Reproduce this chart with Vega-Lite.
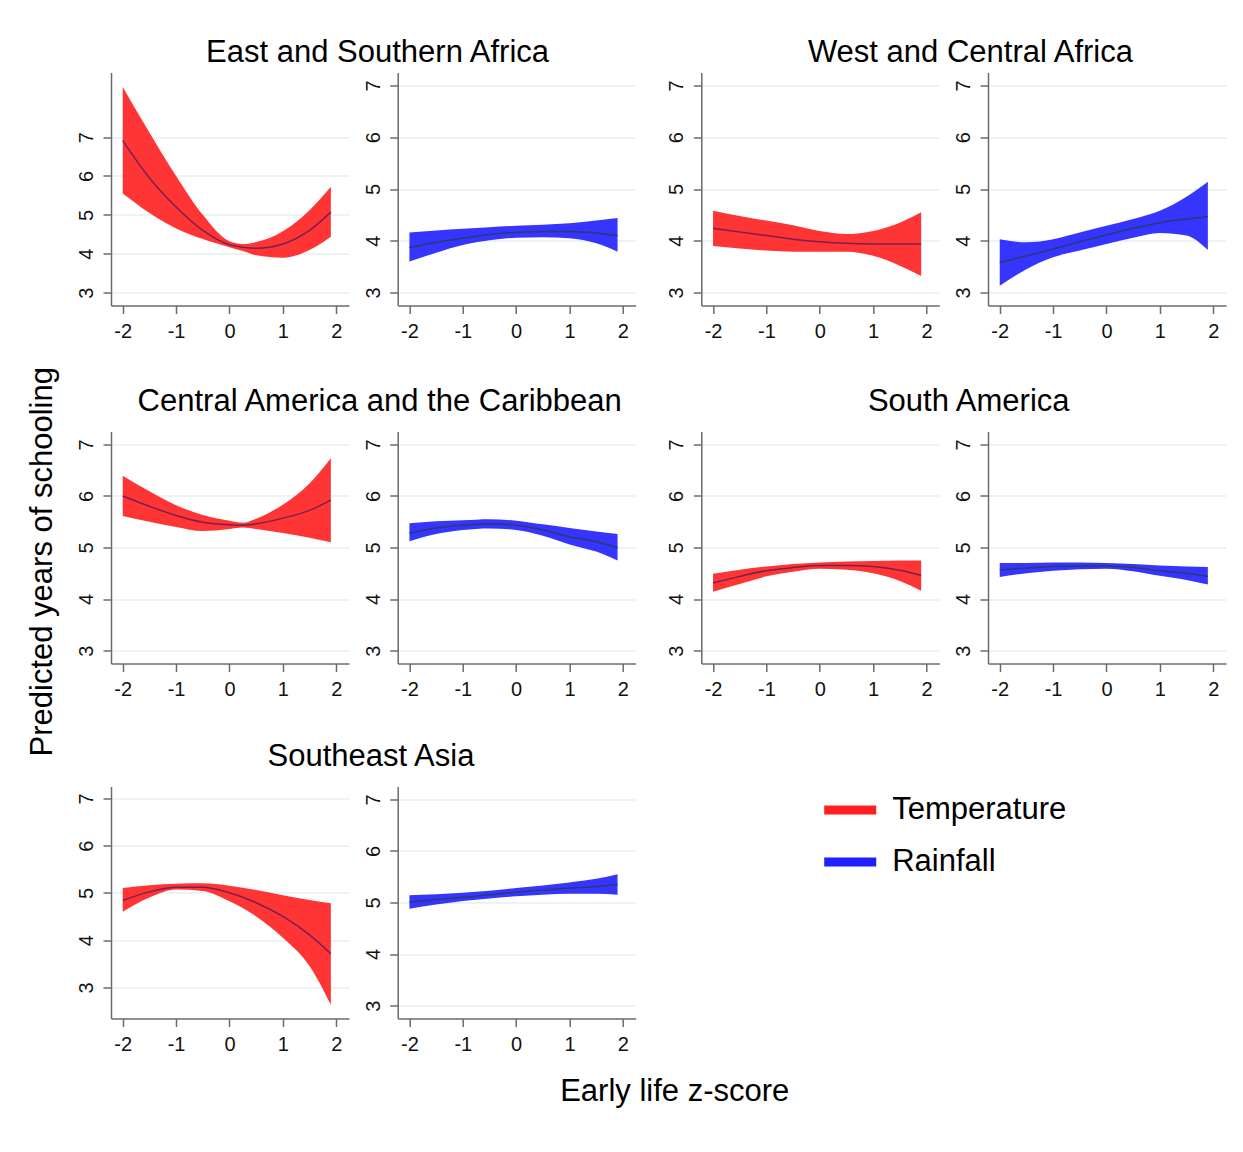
{
  "$schema": "https://vega.github.io/schema/vega-lite/v6.json",
  "background": "white",
  "padding": {"left": 26, "top": 36.5, "right": 5, "bottom": 5},
  "datasets": {
    "d": [
      {"r":"ESA","v":"Temperature","x":-2,"lo":5.55,"hi":8.29,"mid":6.91},
      {"r":"ESA","v":"Temperature","x":-1.5,"lo":5.05,"hi":7.12,"mid":5.95},
      {"r":"ESA","v":"Temperature","x":-1,"lo":4.65,"hi":6.0,"mid":5.2},
      {"r":"ESA","v":"Temperature","x":-0.5,"lo":4.38,"hi":5.0,"mid":4.6},
      {"r":"ESA","v":"Temperature","x":0,"lo":4.17,"hi":4.32,"mid":4.23},
      {"r":"ESA","v":"Temperature","x":0.25,"lo":4.07,"hi":4.25,"mid":4.17},
      {"r":"ESA","v":"Temperature","x":0.5,"lo":3.96,"hi":4.3,"mid":4.14},
      {"r":"ESA","v":"Temperature","x":1,"lo":3.9,"hi":4.58,"mid":4.25},
      {"r":"ESA","v":"Temperature","x":1.5,"lo":4.1,"hi":5.12,"mid":4.6},
      {"r":"ESA","v":"Temperature","x":1.9,"lo":4.44,"hi":5.72,"mid":5.07},

      {"r":"ESA","v":"Rainfall","x":-2,"lo":3.6,"hi":4.16,"mid":3.87},
      {"r":"ESA","v":"Rainfall","x":-1.5,"lo":3.77,"hi":4.2,"mid":3.97},
      {"r":"ESA","v":"Rainfall","x":-1,"lo":3.92,"hi":4.23,"mid":4.05},
      {"r":"ESA","v":"Rainfall","x":-0.5,"lo":4.01,"hi":4.26,"mid":4.12},
      {"r":"ESA","v":"Rainfall","x":0,"lo":4.06,"hi":4.29,"mid":4.16},
      {"r":"ESA","v":"Rainfall","x":0.5,"lo":4.07,"hi":4.31,"mid":4.18},
      {"r":"ESA","v":"Rainfall","x":1,"lo":4.05,"hi":4.34,"mid":4.18},
      {"r":"ESA","v":"Rainfall","x":1.5,"lo":3.95,"hi":4.39,"mid":4.15},
      {"r":"ESA","v":"Rainfall","x":1.9,"lo":3.79,"hi":4.44,"mid":4.1},

      {"r":"WCA","v":"Temperature","x":-2,"lo":3.9,"hi":4.58,"mid":4.24},
      {"r":"WCA","v":"Temperature","x":-1.5,"lo":3.85,"hi":4.48,"mid":4.17},
      {"r":"WCA","v":"Temperature","x":-1,"lo":3.81,"hi":4.39,"mid":4.1},
      {"r":"WCA","v":"Temperature","x":-0.5,"lo":3.79,"hi":4.3,"mid":4.03},
      {"r":"WCA","v":"Temperature","x":0,"lo":3.79,"hi":4.19,"mid":3.98},
      {"r":"WCA","v":"Temperature","x":0.5,"lo":3.79,"hi":4.13,"mid":3.95},
      {"r":"WCA","v":"Temperature","x":1,"lo":3.71,"hi":4.19,"mid":3.94},
      {"r":"WCA","v":"Temperature","x":1.5,"lo":3.52,"hi":4.35,"mid":3.94},
      {"r":"WCA","v":"Temperature","x":1.9,"lo":3.32,"hi":4.55,"mid":3.94},

      {"r":"WCA","v":"Rainfall","x":-2,"lo":3.13,"hi":4.03,"mid":3.58},
      {"r":"WCA","v":"Rainfall","x":-1.5,"lo":3.45,"hi":3.97,"mid":3.71},
      {"r":"WCA","v":"Rainfall","x":-1,"lo":3.68,"hi":4.03,"mid":3.84},
      {"r":"WCA","v":"Rainfall","x":-0.5,"lo":3.81,"hi":4.16,"mid":3.98},
      {"r":"WCA","v":"Rainfall","x":0,"lo":3.94,"hi":4.29,"mid":4.11},
      {"r":"WCA","v":"Rainfall","x":0.5,"lo":4.06,"hi":4.42,"mid":4.24},
      {"r":"WCA","v":"Rainfall","x":1,"lo":4.15,"hi":4.58,"mid":4.35},
      {"r":"WCA","v":"Rainfall","x":1.5,"lo":4.1,"hi":4.85,"mid":4.42},
      {"r":"WCA","v":"Rainfall","x":1.9,"lo":3.82,"hi":5.14,"mid":4.47},

      {"r":"CAC","v":"Temperature","x":-2,"lo":5.61,"hi":6.39,"mid":6.0},
      {"r":"CAC","v":"Temperature","x":-1.5,"lo":5.5,"hi":6.09,"mid":5.8},
      {"r":"CAC","v":"Temperature","x":-1,"lo":5.4,"hi":5.82,"mid":5.62},
      {"r":"CAC","v":"Temperature","x":-0.5,"lo":5.32,"hi":5.63,"mid":5.49},
      {"r":"CAC","v":"Temperature","x":0,"lo":5.36,"hi":5.52,"mid":5.44},
      {"r":"CAC","v":"Temperature","x":0.25,"lo":5.39,"hi":5.48,"mid":5.43},
      {"r":"CAC","v":"Temperature","x":0.5,"lo":5.36,"hi":5.56,"mid":5.46},
      {"r":"CAC","v":"Temperature","x":1,"lo":5.28,"hi":5.83,"mid":5.57},
      {"r":"CAC","v":"Temperature","x":1.5,"lo":5.19,"hi":6.24,"mid":5.72},
      {"r":"CAC","v":"Temperature","x":1.9,"lo":5.1,"hi":6.73,"mid":5.92},

      {"r":"CAC","v":"Rainfall","x":-2,"lo":5.12,"hi":5.47,"mid":5.28},
      {"r":"CAC","v":"Rainfall","x":-1.5,"lo":5.26,"hi":5.51,"mid":5.38},
      {"r":"CAC","v":"Rainfall","x":-1,"lo":5.34,"hi":5.53,"mid":5.43},
      {"r":"CAC","v":"Rainfall","x":-0.5,"lo":5.37,"hi":5.55,"mid":5.46},
      {"r":"CAC","v":"Rainfall","x":0,"lo":5.34,"hi":5.52,"mid":5.43},
      {"r":"CAC","v":"Rainfall","x":0.5,"lo":5.23,"hi":5.45,"mid":5.34},
      {"r":"CAC","v":"Rainfall","x":1,"lo":5.06,"hi":5.38,"mid":5.21},
      {"r":"CAC","v":"Rainfall","x":1.5,"lo":4.92,"hi":5.31,"mid":5.11},
      {"r":"CAC","v":"Rainfall","x":1.9,"lo":4.75,"hi":5.26,"mid":5.0},

      {"r":"SA","v":"Temperature","x":-2,"lo":4.14,"hi":4.49,"mid":4.31},
      {"r":"SA","v":"Temperature","x":-1.5,"lo":4.29,"hi":4.57,"mid":4.44},
      {"r":"SA","v":"Temperature","x":-1,"lo":4.44,"hi":4.63,"mid":4.55},
      {"r":"SA","v":"Temperature","x":-0.5,"lo":4.53,"hi":4.68,"mid":4.61},
      {"r":"SA","v":"Temperature","x":0,"lo":4.59,"hi":4.71,"mid":4.65},
      {"r":"SA","v":"Temperature","x":0.5,"lo":4.57,"hi":4.73,"mid":4.65},
      {"r":"SA","v":"Temperature","x":1,"lo":4.5,"hi":4.74,"mid":4.63},
      {"r":"SA","v":"Temperature","x":1.5,"lo":4.35,"hi":4.75,"mid":4.56},
      {"r":"SA","v":"Temperature","x":1.9,"lo":4.16,"hi":4.75,"mid":4.46},

      {"r":"SA","v":"Rainfall","x":-2,"lo":4.43,"hi":4.7,"mid":4.57},
      {"r":"SA","v":"Rainfall","x":-1.5,"lo":4.5,"hi":4.7,"mid":4.6},
      {"r":"SA","v":"Rainfall","x":-1,"lo":4.55,"hi":4.71,"mid":4.63},
      {"r":"SA","v":"Rainfall","x":-0.5,"lo":4.58,"hi":4.71,"mid":4.64},
      {"r":"SA","v":"Rainfall","x":0,"lo":4.59,"hi":4.7,"mid":4.64},
      {"r":"SA","v":"Rainfall","x":0.5,"lo":4.54,"hi":4.68,"mid":4.61},
      {"r":"SA","v":"Rainfall","x":1,"lo":4.45,"hi":4.65,"mid":4.55},
      {"r":"SA","v":"Rainfall","x":1.5,"lo":4.37,"hi":4.63,"mid":4.5},
      {"r":"SA","v":"Rainfall","x":1.9,"lo":4.28,"hi":4.62,"mid":4.44},

      {"r":"SEA","v":"Temperature","x":-2,"lo":4.6,"hi":5.1,"mid":4.84},
      {"r":"SEA","v":"Temperature","x":-1.5,"lo":4.9,"hi":5.16,"mid":5.02},
      {"r":"SEA","v":"Temperature","x":-1,"lo":5.07,"hi":5.19,"mid":5.12},
      {"r":"SEA","v":"Temperature","x":-0.5,"lo":5.04,"hi":5.2,"mid":5.12},
      {"r":"SEA","v":"Temperature","x":0,"lo":4.82,"hi":5.15,"mid":5.0},
      {"r":"SEA","v":"Temperature","x":0.5,"lo":4.5,"hi":5.06,"mid":4.79},
      {"r":"SEA","v":"Temperature","x":1,"lo":4.05,"hi":4.95,"mid":4.5},
      {"r":"SEA","v":"Temperature","x":1.5,"lo":3.45,"hi":4.85,"mid":4.11},
      {"r":"SEA","v":"Temperature","x":1.9,"lo":2.63,"hi":4.78,"mid":3.71},

      {"r":"SEA","v":"Rainfall","x":-2,"lo":4.88,"hi":5.14,"mid":5.01},
      {"r":"SEA","v":"Rainfall","x":-1.5,"lo":4.96,"hi":5.16,"mid":5.06},
      {"r":"SEA","v":"Rainfall","x":-1,"lo":5.03,"hi":5.19,"mid":5.1},
      {"r":"SEA","v":"Rainfall","x":-0.5,"lo":5.08,"hi":5.23,"mid":5.15},
      {"r":"SEA","v":"Rainfall","x":0,"lo":5.12,"hi":5.28,"mid":5.2},
      {"r":"SEA","v":"Rainfall","x":0.5,"lo":5.15,"hi":5.33,"mid":5.24},
      {"r":"SEA","v":"Rainfall","x":1,"lo":5.17,"hi":5.39,"mid":5.28},
      {"r":"SEA","v":"Rainfall","x":1.5,"lo":5.17,"hi":5.46,"mid":5.31},
      {"r":"SEA","v":"Rainfall","x":1.9,"lo":5.15,"hi":5.55,"mid":5.35}
    ]
  },
  "title": {"text": "Predicted years of schooling", "orient": "left", "anchor": "middle", "offset": 17.7, "dx": 10},
  "spacing": 41,
  "resolve": {"scale": {"x": "independent", "y": "independent", "color": "independent"}},
  "vconcat": [
    {
      "spacing": 44,
      "resolve": {"scale": {"x": "independent", "y": "independent", "color": "independent"}},
      "vconcat": [
        {
          "spacing": 30.3,
          "resolve": {"scale": {"x": "independent", "y": "independent", "color": "independent"}},
          "hconcat": [
            {
              "title": {"text": "East and Southern Africa", "anchor": "start", "dx": 129.8, "offset": 3.5},
              "spacing": 13.7,
              "resolve": {"scale": {"x": "independent", "y": "independent", "color": "independent"}},
              "hconcat": [
                {
                  "width": 238, "height": 233,
                  "data": {"name": "d"},
                  "transform": [{"filter": "datum.r==='ESA' && datum.v==='Temperature'"}],
                  "encoding": {"x": {"field": "x", "type": "quantitative", "scale": {"domain": [-2.22, 2.24], "nice": false, "zero": false}, "axis": {"values": [-2, -1, 0, 1, 2], "title": null}}},
                  "layer": [
                    {"mark": {"type": "area", "interpolate": "monotone", "opacity": 0.9},
                     "encoding": {
                       "y": {"field": "lo", "type": "quantitative", "scale": {"domain": [2.67, 8.66], "nice": false, "zero": false}, "axis": {"values": [3, 4, 5, 6, 7], "title": null}},
                       "y2": {"field": "hi"},
                       "color": {"field": "v", "type": "nominal", "scale": {"domain": ["Temperature", "Rainfall"], "range": ["#ff1f1f", "#1f1fff"]}, "legend": null}}},
                    {"mark": {"type": "line", "interpolate": "monotone", "color": "#7a1f4f", "strokeWidth": 1.5},
                     "encoding": {"y": {"field": "mid", "type": "quantitative", "axis": {"values": [3, 4, 5, 6, 7], "title": null}}}}
                  ]
                },
                {
                  "width": 238, "height": 233,
                  "data": {"name": "d"},
                  "transform": [{"filter": "datum.r==='ESA' && datum.v==='Rainfall'"}],
                  "encoding": {"x": {"field": "x", "type": "quantitative", "scale": {"domain": [-2.22, 2.24], "nice": false, "zero": false}, "axis": {"values": [-2, -1, 0, 1, 2], "title": null}}},
                  "layer": [
                    {"mark": {"type": "area", "interpolate": "monotone", "opacity": 0.9},
                     "encoding": {
                       "y": {"field": "lo", "type": "quantitative", "scale": {"domain": [2.75, 7.25], "nice": false, "zero": false}, "axis": {"values": [3, 4, 5, 6, 7], "title": null}},
                       "y2": {"field": "hi"},
                       "color": {"field": "v", "type": "nominal", "scale": {"domain": ["Temperature", "Rainfall"], "range": ["#ff1f1f", "#1f1fff"]}, "legend": null}}},
                    {"mark": {"type": "line", "interpolate": "monotone", "color": "#2c3a6e", "strokeWidth": 1.5},
                     "encoding": {"y": {"field": "mid", "type": "quantitative", "axis": {"values": [3, 4, 5, 6, 7], "title": null}}}}
                  ]
                }
              ]
            },
            {
              "title": {"text": "West and Central Africa", "anchor": "start", "dx": 141.3, "offset": 3.5},
              "spacing": 13.7,
              "resolve": {"scale": {"x": "independent", "y": "independent", "color": "independent"}},
              "hconcat": [
                {
                  "width": 238, "height": 233,
                  "data": {"name": "d"},
                  "transform": [{"filter": "datum.r==='WCA' && datum.v==='Temperature'"}],
                  "encoding": {"x": {"field": "x", "type": "quantitative", "scale": {"domain": [-2.22, 2.24], "nice": false, "zero": false}, "axis": {"values": [-2, -1, 0, 1, 2], "title": null}}},
                  "layer": [
                    {"mark": {"type": "area", "interpolate": "monotone", "opacity": 0.9},
                     "encoding": {
                       "y": {"field": "lo", "type": "quantitative", "scale": {"domain": [2.75, 7.25], "nice": false, "zero": false}, "axis": {"values": [3, 4, 5, 6, 7], "title": null}},
                       "y2": {"field": "hi"},
                       "color": {"field": "v", "type": "nominal", "scale": {"domain": ["Temperature", "Rainfall"], "range": ["#ff1f1f", "#1f1fff"]}, "legend": null}}},
                    {"mark": {"type": "line", "interpolate": "monotone", "color": "#7a1f4f", "strokeWidth": 1.5},
                     "encoding": {"y": {"field": "mid", "type": "quantitative", "axis": {"values": [3, 4, 5, 6, 7], "title": null}}}}
                  ]
                },
                {
                  "width": 238, "height": 233,
                  "data": {"name": "d"},
                  "transform": [{"filter": "datum.r==='WCA' && datum.v==='Rainfall'"}],
                  "encoding": {"x": {"field": "x", "type": "quantitative", "scale": {"domain": [-2.22, 2.24], "nice": false, "zero": false}, "axis": {"values": [-2, -1, 0, 1, 2], "title": null}}},
                  "layer": [
                    {"mark": {"type": "area", "interpolate": "monotone", "opacity": 0.9},
                     "encoding": {
                       "y": {"field": "lo", "type": "quantitative", "scale": {"domain": [2.75, 7.25], "nice": false, "zero": false}, "axis": {"values": [3, 4, 5, 6, 7], "title": null}},
                       "y2": {"field": "hi"},
                       "color": {"field": "v", "type": "nominal", "scale": {"domain": ["Temperature", "Rainfall"], "range": ["#ff1f1f", "#1f1fff"]}, "legend": null}}},
                    {"mark": {"type": "line", "interpolate": "monotone", "color": "#2c3a6e", "strokeWidth": 1.5},
                     "encoding": {"y": {"field": "mid", "type": "quantitative", "axis": {"values": [3, 4, 5, 6, 7], "title": null}}}}
                  ]
                }
              ]
            }
          ]
        },
        {
          "spacing": 30.3,
          "resolve": {"scale": {"x": "independent", "y": "independent", "color": "independent"}},
          "hconcat": [
            {
              "title": {"text": "Central America and the Caribbean", "anchor": "start", "dx": 61.3, "offset": 14},
              "spacing": 13.7,
              "resolve": {"scale": {"x": "independent", "y": "independent", "color": "independent"}},
              "hconcat": [
                {
                  "width": 238, "height": 232,
                  "data": {"name": "d"},
                  "transform": [{"filter": "datum.r==='CAC' && datum.v==='Temperature'"}],
                  "encoding": {"x": {"field": "x", "type": "quantitative", "scale": {"domain": [-2.22, 2.24], "nice": false, "zero": false}, "axis": {"values": [-2, -1, 0, 1, 2], "title": null}}},
                  "layer": [
                    {"mark": {"type": "area", "interpolate": "monotone", "opacity": 0.9},
                     "encoding": {
                       "y": {"field": "lo", "type": "quantitative", "scale": {"domain": [2.75, 7.25], "nice": false, "zero": false}, "axis": {"values": [3, 4, 5, 6, 7], "title": null}},
                       "y2": {"field": "hi"},
                       "color": {"field": "v", "type": "nominal", "scale": {"domain": ["Temperature", "Rainfall"], "range": ["#ff1f1f", "#1f1fff"]}, "legend": null}}},
                    {"mark": {"type": "line", "interpolate": "monotone", "color": "#7a1f4f", "strokeWidth": 1.5},
                     "encoding": {"y": {"field": "mid", "type": "quantitative", "axis": {"values": [3, 4, 5, 6, 7], "title": null}}}}
                  ]
                },
                {
                  "width": 238, "height": 232,
                  "data": {"name": "d"},
                  "transform": [{"filter": "datum.r==='CAC' && datum.v==='Rainfall'"}],
                  "encoding": {"x": {"field": "x", "type": "quantitative", "scale": {"domain": [-2.22, 2.24], "nice": false, "zero": false}, "axis": {"values": [-2, -1, 0, 1, 2], "title": null}}},
                  "layer": [
                    {"mark": {"type": "area", "interpolate": "monotone", "opacity": 0.9},
                     "encoding": {
                       "y": {"field": "lo", "type": "quantitative", "scale": {"domain": [2.75, 7.25], "nice": false, "zero": false}, "axis": {"values": [3, 4, 5, 6, 7], "title": null}},
                       "y2": {"field": "hi"},
                       "color": {"field": "v", "type": "nominal", "scale": {"domain": ["Temperature", "Rainfall"], "range": ["#ff1f1f", "#1f1fff"]}, "legend": null}}},
                    {"mark": {"type": "line", "interpolate": "monotone", "color": "#2c3a6e", "strokeWidth": 1.5},
                     "encoding": {"y": {"field": "mid", "type": "quantitative", "axis": {"values": [3, 4, 5, 6, 7], "title": null}}}}
                  ]
                }
              ]
            },
            {
              "title": {"text": "South America", "anchor": "start", "dx": 201.3, "offset": 14},
              "spacing": 13.7,
              "resolve": {"scale": {"x": "independent", "y": "independent", "color": "independent"}},
              "hconcat": [
                {
                  "width": 238, "height": 232,
                  "data": {"name": "d"},
                  "transform": [{"filter": "datum.r==='SA' && datum.v==='Temperature'"}],
                  "encoding": {"x": {"field": "x", "type": "quantitative", "scale": {"domain": [-2.22, 2.24], "nice": false, "zero": false}, "axis": {"values": [-2, -1, 0, 1, 2], "title": null}}},
                  "layer": [
                    {"mark": {"type": "area", "interpolate": "monotone", "opacity": 0.9},
                     "encoding": {
                       "y": {"field": "lo", "type": "quantitative", "scale": {"domain": [2.75, 7.25], "nice": false, "zero": false}, "axis": {"values": [3, 4, 5, 6, 7], "title": null}},
                       "y2": {"field": "hi"},
                       "color": {"field": "v", "type": "nominal", "scale": {"domain": ["Temperature", "Rainfall"], "range": ["#ff1f1f", "#1f1fff"]}, "legend": null}}},
                    {"mark": {"type": "line", "interpolate": "monotone", "color": "#7a1f4f", "strokeWidth": 1.5},
                     "encoding": {"y": {"field": "mid", "type": "quantitative", "axis": {"values": [3, 4, 5, 6, 7], "title": null}}}}
                  ]
                },
                {
                  "width": 238, "height": 232,
                  "data": {"name": "d"},
                  "transform": [{"filter": "datum.r==='SA' && datum.v==='Rainfall'"}],
                  "encoding": {"x": {"field": "x", "type": "quantitative", "scale": {"domain": [-2.22, 2.24], "nice": false, "zero": false}, "axis": {"values": [-2, -1, 0, 1, 2], "title": null}}},
                  "layer": [
                    {"mark": {"type": "area", "interpolate": "monotone", "opacity": 0.9},
                     "encoding": {
                       "y": {"field": "lo", "type": "quantitative", "scale": {"domain": [2.75, 7.25], "nice": false, "zero": false}, "axis": {"values": [3, 4, 5, 6, 7], "title": null}},
                       "y2": {"field": "hi"},
                       "color": {"field": "v", "type": "nominal", "scale": {"domain": ["Temperature", "Rainfall"], "range": ["#ff1f1f", "#1f1fff"]}, "legend": null}}},
                    {"mark": {"type": "line", "interpolate": "monotone", "color": "#2c3a6e", "strokeWidth": 1.5},
                     "encoding": {"y": {"field": "mid", "type": "quantitative", "axis": {"values": [3, 4, 5, 6, 7], "title": null}}}}
                  ]
                }
              ]
            }
          ]
        }
      ]
    },
    {
      "title": {"text": "Southeast Asia", "anchor": "start", "dx": 191.3, "offset": 10.8},
      "spacing": 13.7,
      "resolve": {"scale": {"x": "independent", "y": "independent", "color": "independent"}},
      "hconcat": [
        {
          "width": 238, "height": 232,
          "data": {"name": "d"},
          "transform": [{"filter": "datum.r==='SEA' && datum.v==='Temperature'"}],
          "encoding": {"x": {"field": "x", "type": "quantitative", "scale": {"domain": [-2.22, 2.24], "nice": false, "zero": false}, "axis": {"values": [-2, -1, 0, 1, 2], "title": null}}},
          "layer": [
            {"mark": {"type": "area", "interpolate": "monotone", "opacity": 0.9},
             "encoding": {
               "y": {"field": "lo", "type": "quantitative", "scale": {"domain": [2.34, 7.25], "nice": false, "zero": false}, "axis": {"values": [3, 4, 5, 6, 7], "title": null}},
               "y2": {"field": "hi"},
               "color": {"field": "v", "type": "nominal", "scale": {"domain": ["Temperature", "Rainfall"], "range": ["#ff1f1f", "#1f1fff"]}, "legend": null}}},
            {"mark": {"type": "line", "interpolate": "monotone", "color": "#7a1f4f", "strokeWidth": 1.5},
             "encoding": {"y": {"field": "mid", "type": "quantitative", "axis": {"values": [3, 4, 5, 6, 7], "title": null}}}}
          ]
        },
        {
          "width": 238, "height": 232,
          "data": {"name": "d"},
          "transform": [{"filter": "datum.r==='SEA' && datum.v==='Rainfall'"}],
          "encoding": {"x": {"field": "x", "type": "quantitative", "scale": {"domain": [-2.22, 2.24], "nice": false, "zero": false}, "axis": {"values": [-2, -1, 0, 1, 2], "title": "Early life z-score", "titleX": 276.5, "titleY": 82, "titleAlign": "center", "titleBaseline": "alphabetic", "titleFontSize": 31, "titleFont": "Liberation Sans", "titleFontWeight": "normal", "titleColor": "#000"}}},
          "layer": [
            {"mark": {"type": "area", "interpolate": "monotone", "opacity": 0.9},
             "encoding": {
               "y": {"field": "lo", "type": "quantitative", "scale": {"domain": [2.75, 7.25], "nice": false, "zero": false}, "axis": {"values": [3, 4, 5, 6, 7], "title": null}},
               "y2": {"field": "hi"},
               "color": {"field": "v", "type": "nominal", "scale": {"domain": ["Temperature", "Rainfall"], "range": ["#ff1f1f", "#1f1fff"]},
                 "legend": {"orient": "none", "legendX": 426.5, "legendY": -2.5, "title": null, "symbolType": "M-1,-0.17H1V0.17H-1Z", "symbolSize": 2704, "symbolStrokeWidth": 0, "symbolOpacity": 1, "labelFontSize": 31, "labelFont": "Liberation Sans", "labelColor": "#000", "labelOffset": 16, "labelLimit": 400, "rowPadding": 11, "padding": 0, "direction": "vertical"}}}},
            {"mark": {"type": "line", "interpolate": "monotone", "color": "#2c3a6e", "strokeWidth": 1.5},
             "encoding": {"y": {"field": "mid", "type": "quantitative", "axis": {"values": [3, 4, 5, 6, 7], "title": null}}}}
          ]
        }
      ]
    }
  ],
  "config": {
    "font": "Liberation Sans",
    "view": {"stroke": null},
    "title": {"font": "Liberation Sans", "fontSize": 31, "fontWeight": "normal", "color": "#000"},
    "axis": {
      "domainColor": "#6b6b6b", "domainWidth": 1.5,
      "tickColor": "#6b6b6b", "tickWidth": 1.5, "tickSize": 8,
      "labelFont": "Liberation Sans", "labelFontSize": 20, "labelColor": "#111",
      "labelFlush": false, "labelOverlap": false,
      "labelExpr": "'' + datum.value",
      "gridColor": "#e6eff0", "gridWidth": 1.5
    },
    "axisX": {"grid": false, "labelPadding": 7.8},
    "axisY": {"grid": true, "labelAngle": -90, "labelAlign": "center", "labelBaseline": "alphabetic", "labelPadding": 10.7}
  }
}
